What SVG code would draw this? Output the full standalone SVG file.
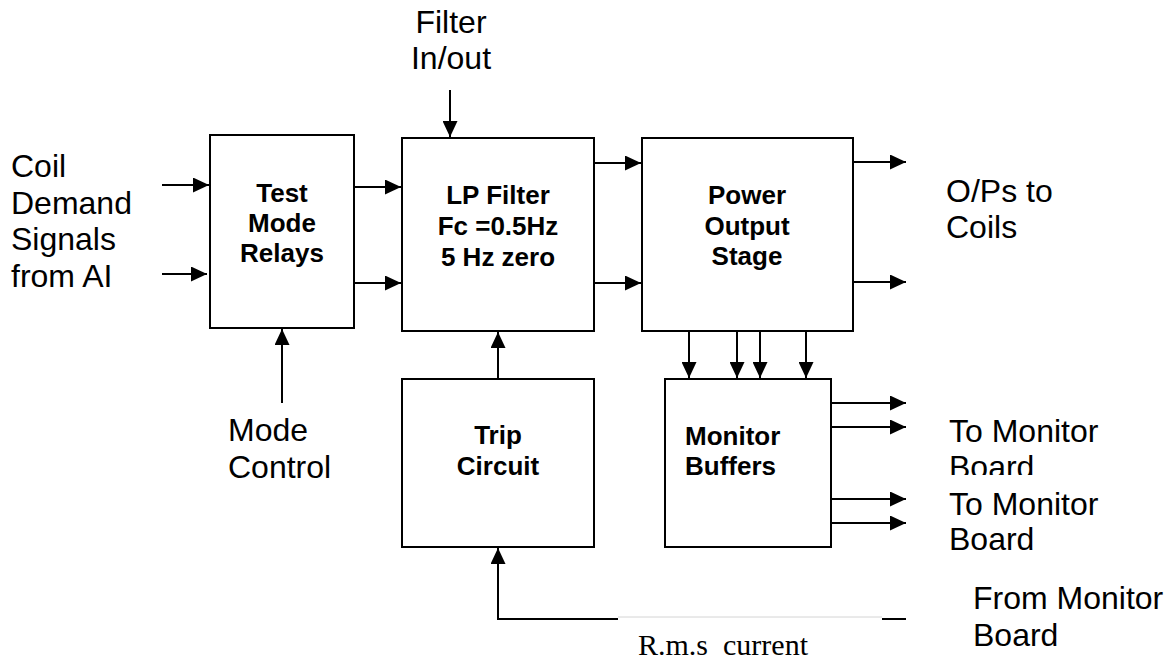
<svg xmlns="http://www.w3.org/2000/svg" width="1176" height="661" viewBox="0 0 1176 661">
<style>
.box{fill:#fff;stroke:#000;stroke-width:2}
.ln{fill:none;stroke:#000;stroke-width:2}
.b{font-family:"Liberation Sans",Arial,sans-serif;font-weight:bold;font-size:26px;fill:#000}
.r{font-family:"Liberation Sans",Arial,sans-serif;font-size:32px;fill:#000}
.s{font-family:"Liberation Serif","Times New Roman",serif;font-size:30px;fill:#000}
</style>
<defs>
<marker id="ah" markerUnits="userSpaceOnUse" markerWidth="17" markerHeight="15" refX="16" refY="7.5" orient="auto">
<path d="M0,0 L16,7.5 L0,15 z" fill="#000"/>
</marker>
<clipPath id="clipB"><rect x="900" y="440" width="276" height="35"/></clipPath>
</defs>
<rect width="1176" height="661" fill="#fff"/>

<g id="connectors">
<line class="ln" x1="162" y1="185" x2="209" y2="185" marker-end="url(#ah)"/>
<line class="ln" x1="162" y1="274" x2="207" y2="274" marker-end="url(#ah)"/>
<line class="ln" x1="354" y1="187" x2="401" y2="187" marker-end="url(#ah)"/>
<line class="ln" x1="354" y1="283" x2="401" y2="283" marker-end="url(#ah)"/>
<line class="ln" x1="450" y1="90" x2="450" y2="137" marker-end="url(#ah)"/>
<line class="ln" x1="282" y1="403" x2="282" y2="329" marker-end="url(#ah)"/>
<line class="ln" x1="594" y1="163" x2="641" y2="163" marker-end="url(#ah)"/>
<line class="ln" x1="594" y1="283" x2="641" y2="283" marker-end="url(#ah)"/>
<line class="ln" x1="853" y1="162" x2="906" y2="162" marker-end="url(#ah)"/>
<line class="ln" x1="853" y1="282" x2="906" y2="282" marker-end="url(#ah)"/>
<line class="ln" x1="689" y1="331" x2="689" y2="378" marker-end="url(#ah)"/>
<line class="ln" x1="737" y1="331" x2="737" y2="378" marker-end="url(#ah)"/>
<line class="ln" x1="760" y1="331" x2="760" y2="378" marker-end="url(#ah)"/>
<line class="ln" x1="806" y1="331" x2="806" y2="378" marker-end="url(#ah)"/>
<line class="ln" x1="498" y1="379" x2="498" y2="332" marker-end="url(#ah)"/>
<line class="ln" x1="831" y1="403" x2="906" y2="403" marker-end="url(#ah)"/>
<line class="ln" x1="831" y1="427" x2="906" y2="427" marker-end="url(#ah)"/>
<line class="ln" x1="831" y1="499" x2="906" y2="499" marker-end="url(#ah)"/>
<line class="ln" x1="831" y1="523" x2="906" y2="523" marker-end="url(#ah)"/>
<polyline class="ln" points="618,619 498,619 498,548" marker-end="url(#ah)"/>
<line x1="618" y1="617" x2="882" y2="617" stroke="#d4d4d4" stroke-width="1"/>
<line class="ln" x1="882" y1="619" x2="906" y2="619"/>
</g>

<g id="test-mode-relays">
<rect class="box" x="210" y="135" width="144" height="193"/>
<text class="b" text-anchor="middle" x="282" y="202">Test</text>
<text class="b" text-anchor="middle" x="282" y="232">Mode</text>
<text class="b" text-anchor="middle" x="282" y="262">Relays</text>
</g>

<g id="lp-filter">
<rect class="box" x="402" y="138" width="192" height="193"/>
<text class="b" text-anchor="middle" x="498" y="204">LP Filter</text>
<text class="b" text-anchor="middle" x="498" y="235">Fc =0.5Hz</text>
<text class="b" text-anchor="middle" x="498" y="266">5 Hz zero</text>
</g>

<g id="power-output-stage">
<rect class="box" x="642" y="138" width="211" height="193"/>
<text class="b" text-anchor="middle" x="747" y="204">Power</text>
<text class="b" text-anchor="middle" x="747" y="235">Output</text>
<text class="b" text-anchor="middle" x="747" y="265">Stage</text>
</g>

<g id="trip-circuit">
<rect class="box" x="402" y="379" width="192" height="168"/>
<text class="b" text-anchor="middle" x="498" y="444">Trip</text>
<text class="b" text-anchor="middle" x="498" y="475">Circuit</text>
</g>

<g id="monitor-buffers">
<rect class="box" x="665" y="379" width="166" height="168"/>
<text class="b" x="685" y="445">Monitor</text>
<text class="b" x="685" y="475">Buffers</text>
</g>

<g id="labels">
<text class="r" x="11" y="177">Coil</text>
<text class="r" x="11" y="214">Demand</text>
<text class="r" x="11" y="250">Signals</text>
<text class="r" x="11" y="287">from AI</text>
<text class="r" text-anchor="middle" x="451" y="33">Filter</text>
<text class="r" text-anchor="middle" x="451" y="69">In/out</text>
<text class="r" x="228" y="441">Mode</text>
<text class="r" x="228" y="478">Control</text>
<text class="r" x="946" y="202">O/Ps to</text>
<text class="r" x="946" y="238">Coils</text>
<text class="r" x="949" y="442">To Monitor</text>
<text class="r" x="949" y="478" clip-path="url(#clipB)">Board</text>
<text class="r" x="949" y="515">To Monitor</text>
<text class="r" x="949" y="550">Board</text>
<text class="r" x="973" y="609">From Monitor</text>
<text class="r" x="973" y="646">Board</text>
<text class="s" x="638" y="655" xml:space="preserve">R.m.s  current</text>
</g>
</svg>
